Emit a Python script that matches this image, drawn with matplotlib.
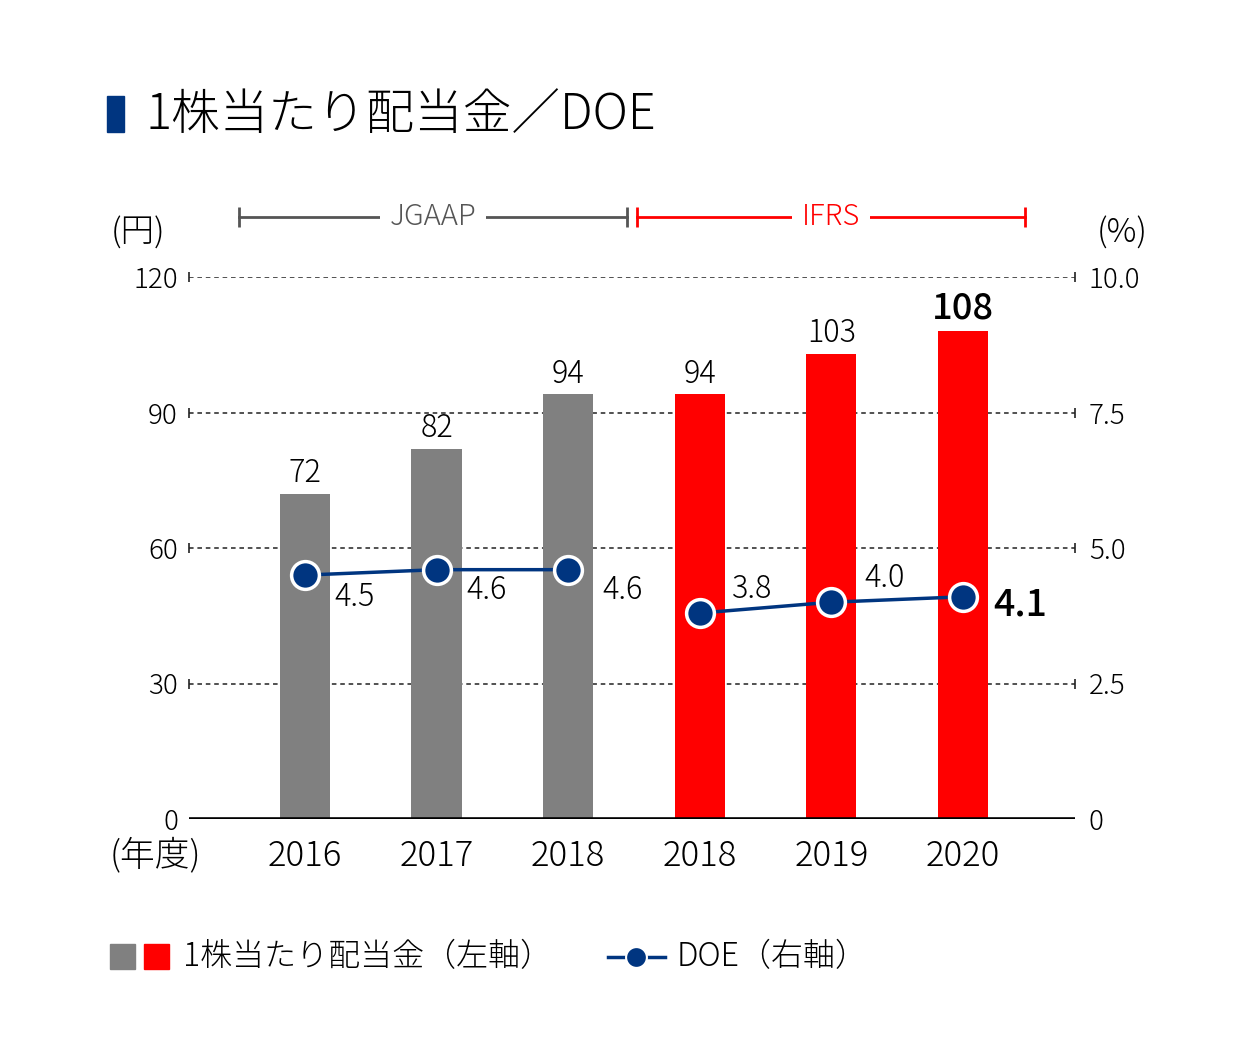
import matplotlib.pyplot as plt
import matplotlib.transforms as mtransforms
from matplotlib.patches import Rectangle
from matplotlib.lines import Line2D

plt.rcParams['font.family'] = ['Noto Sans CJK JP', 'DejaVu Sans']
plt.rcParams['font.weight'] = 'light'

years = ["2016", "2017", "2018", "2018", "2019", "2020"]
dividend = [72, 82, 94, 94, 103, 108]
doe = [4.5, 4.6, 4.6, 3.8, 4.0, 4.1]
bar_colors = ["#808080", "#808080", "#808080", "#ff0000", "#ff0000", "#ff0000"]
left_ticks = [0, 30, 60, 90, 120]
right_ticks = [0, 2.5, 5.0, 7.5, 10.0]
right_labels = ["0", "2.5", "5.0", "7.5", "10.0"]

navy = "#003580"
W, H = 1241, 1055

fig = plt.figure(figsize=(W / 100, H / 100), dpi=100)
ax = fig.add_axes([189 / W, 1 - 819 / H, (1075 - 189) / W, (819 - 277) / H])
ax2 = ax.twinx()

x = list(range(len(years)))
ax.bar(x, dividend, width=0.38, color=bar_colors, zorder=2)
ax.set_xlim(-0.88, 5.85)
ax.set_ylim(0, 120)
ax2.set_ylim(0, 10)

# grid lines + small end marks
for v in left_ticks[1:]:
    ax.axhline(v, color="#222222", lw=1.1, dashes=(3, 2.5), zorder=1)
    ax.plot([-0.88, 5.85], [v, v], marker="|", ms=7, mew=1.2, ls="none",
            color="#222222", clip_on=False, zorder=1)
ax.axhline(0, color="black", lw=2.6, zorder=3)

for a in (ax, ax2):
    for s in a.spines.values():
        s.set_visible(False)
    a.tick_params(length=0)
ax.set_xticks(x)
ax.set_xticklabels(years, fontsize=25)
ax.tick_params(axis="x", pad=14)
ax.set_yticks(left_ticks)
ax.set_yticklabels([str(t) for t in left_ticks], fontsize=20)
ax.tick_params(axis="y", pad=8)
ax2.set_yticks(right_ticks)
ax2.set_yticklabels(right_labels, fontsize=20)
ax2.tick_params(axis="y", pad=10)

# DOE lines (two separate segments)
ax2.plot(x[:3], doe[:3], color=navy, lw=2.5, marker="o", ms=20,
         mfc=navy, mec="white", mew=2.5, zorder=4)
ax2.plot(x[3:], doe[3:], color=navy, lw=2.5, marker="o", ms=20,
         mfc=navy, mec="white", mew=2.5, zorder=4)

# bar value labels
for i, v in enumerate(dividend):
    last = i == len(dividend) - 1
    ax.text(i, v + 1.0, str(v), ha="center", va="bottom",
            fontsize=26 if last else 22, fontweight="medium" if last else "light")

# DOE value labels
doe_off = [(0.38, -0.4), (0.38, -0.38), (0.41, -0.38), (0.40, 0.45), (0.40, 0.45), (0.43, -0.15)]
for i, v in enumerate(doe):
    last = i == len(doe) - 1
    dx, dy = doe_off[i]
    ax2.text(i + dx, v + dy, f"{v:.1f}", ha="center", va="center",
             fontsize=27 if last else 22, fontweight="medium" if last else "light")

# header brackets
tr = mtransforms.blended_transform_factory(ax.transData, fig.transFigure)
yb = 1 - 217 / H
for (x0, x1, label, col) in [(-0.50, 2.45, "JGAAP", "#555555"), (2.52, 5.47, "IFRS", "#ff0000")]:
    ax.plot([x0, x1], [yb, yb], transform=tr, color=col, lw=2, clip_on=False,
            marker="|", ms=14, mew=2)
    ax.text((x0 + x1) / 2, yb, label, transform=tr, ha="center", va="center",
            fontsize=21, color=col, clip_on=False,
            bbox=dict(facecolor="white", edgecolor="none", pad=7))

# unit labels
fig.text(138 / W, 1 - 233 / H, "(円)", ha="center", va="center", fontsize=24)
fig.text(1122 / W, 1 - 233 / H, "(%)", ha="center", va="center", fontsize=24)
fig.text(155 / W, 1 - 855 / H, "(年度)", ha="center", va="center", fontsize=25)

# title
fig.patches.append(Rectangle((107 / W, 1 - 132 / H), 17 / W, 36 / H,
                             transform=fig.transFigure, color=navy))
fig.text(145 / W, 1 - 115 / H, "1株当たり配当金／DOE", ha="left", va="center", fontsize=35)

# legend
fig.patches.append(Rectangle((110 / W, 1 - 969 / H), 25 / W, 25 / H,
                             transform=fig.transFigure, color="#808080"))
fig.patches.append(Rectangle((144 / W, 1 - 969 / H), 25 / W, 25 / H,
                             transform=fig.transFigure, color="#ff0000"))
fig.text(183 / W, 1 - 957 / H, "1株当たり配当金（左軸）", ha="left", va="center", fontsize=23)
fig.lines.append(Line2D([608 / W, 665 / W], [1 - 957 / H, 1 - 957 / H], transform=fig.transFigure,
                        color=navy, lw=2.5))
fig.lines.append(Line2D([636 / W], [1 - 957 / H], transform=fig.transFigure, marker="o",
                        ms=15, mfc=navy, mec="white", mew=1.5, color=navy))
fig.text(677 / W, 1 - 957 / H, "DOE（右軸）", ha="left", va="center", fontsize=23)

fig.savefig("out.png", dpi=100)
